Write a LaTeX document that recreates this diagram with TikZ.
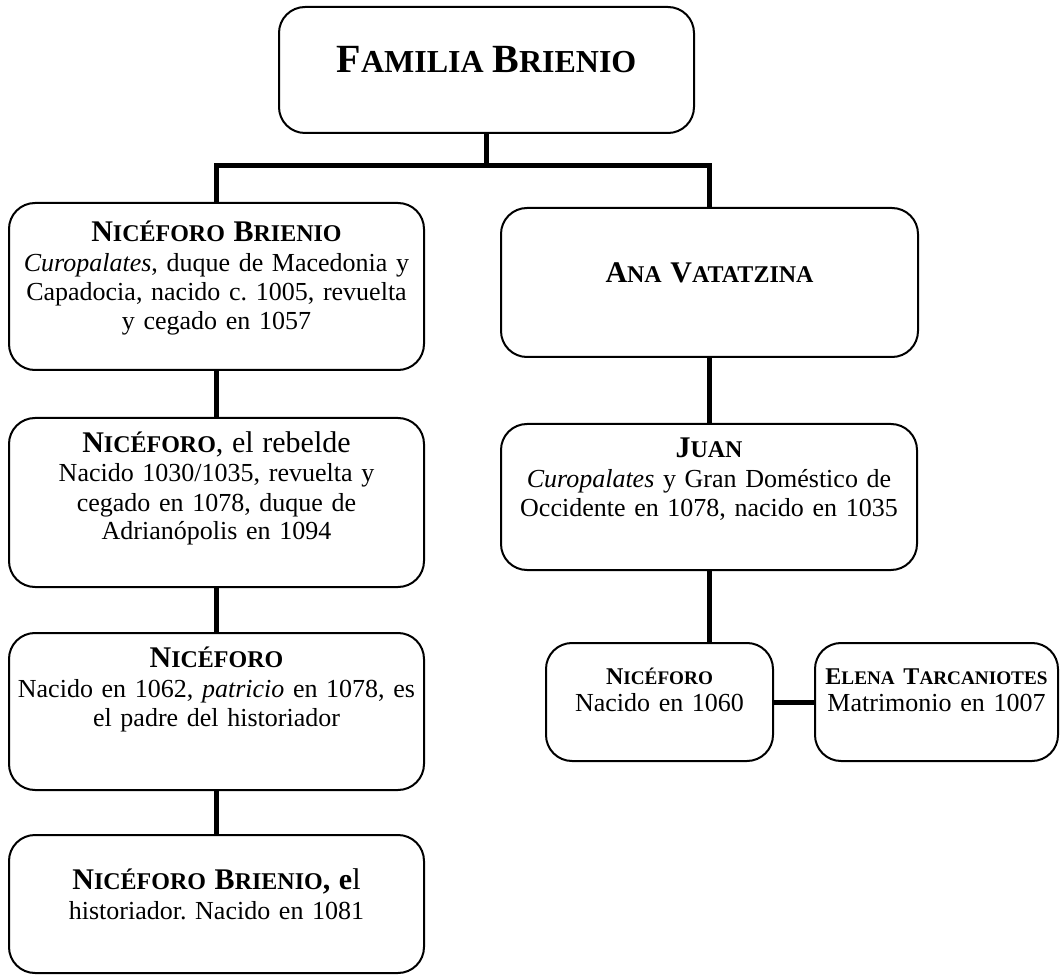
\documentclass[tikz,border=0pt]{standalone}
\usepackage{fontspec}
\setmainfont{Liberation Serif}
\frenchspacing
\newcommand\Lg{\fontsize{30}{29}\selectfont}
\newcommand\Sm{\fontsize{24}{29}\selectfont}
\newcommand\Ms{\fontsize{24}{27}\selectfont}
\newcommand\Ss{\fontsize{19.2}{27}\selectfont}
\tikzset{
  box/.style={draw, line width=2pt, rounded corners=26pt, inner sep=0pt},
  link/.style={line width=5pt},
  txt/.style={anchor=base, align=center, inner sep=0pt, text width=#1,
    font=\frenchspacing\fontsize{26}{29}\selectfont},
  txt/.default=460pt
}
\begin{document}
\begin{tikzpicture}[x=1pt, y=-1pt]
\useasboundingbox[fill=white] (0,0) rectangle (1061,976);
% boxes
\node[box, minimum width=415pt, minimum height=126pt] (top) at (486.5,70) {};
\node[box, minimum width=415pt, minimum height=167pt] (b1) at (216.5,286.5) {};
\node[box, minimum width=415pt, minimum height=169pt] (b2) at (216.5,502.5) {};
\node[box, minimum width=415pt, minimum height=157pt] (b3) at (216.5,711.5) {};
\node[box, minimum width=415pt, minimum height=138pt] (b4) at (216.5,904) {};
\node[box, minimum width=417pt, minimum height=149pt] (ana) at (709.5,282.5) {};
\node[box, minimum width=416pt, minimum height=146pt] (juan) at (709,497) {};
\node[box, minimum width=227pt, minimum height=118pt] (nic) at (659.5,702) {};
\node[box, minimum width=243pt, minimum height=118pt] (elena) at (936.5,702) {};
% texts
\node[txt] (ttop) at ([yshift=-67pt]top.north) {\bfseries\fontsize{40}{44}\selectfont F{\fontsize{32}{44}\selectfont AMILIA} B{\fontsize{32}{44}\selectfont RIENIO}};
\node[txt] (t1) at ([yshift=-40pt]b1.north) {{\bfseries\Lg N\Sm ICÉFORO \Lg B\Sm RIENIO}\\[1pt]
  \textit{Curopalates}, duque de Macedonia y\\
  Capadocia, nacido c. 1005, revuelta\\
  y cegado en 1057};
\node[txt] (t2) at ([yshift=-35pt]b2.north) {{\Lg\textbf{N{\Sm ICÉFORO}}, el rebelde}\\[1pt]
  Nacido 1030/1035, revuelta y\\
  cegado en 1078, duque de\\
  Adrianópolis en 1094};
\node[txt] (t3) at ([yshift=-35pt]b3.north) {{\bfseries\Lg N\Sm ICÉFORO}\\[1pt]
  Nacido en 1062, \textit{patricio} en 1078, es\\
  el padre del historiador};
\node[txt] (t4) at ([yshift=-55pt]b4.north) {{\Lg\textbf{N{\Sm ICÉFORO} B{\Sm RIENIO}, e}l}\\[1pt]
  historiador. Nacido en 1081};
\node[txt] (tana) at ([yshift=-76pt]ana.north) {{\bfseries\Lg A\Sm NA \Lg V\Sm ATATZINA}};
\node[txt] (tjuan) at ([yshift=-34pt]juan.north) {{\bfseries\Lg J\Sm UAN}\\[1pt]
  \textit{Curopalates} y Gran Doméstico de\\
  Occidente en 1078, nacido en 1035};
\node[txt=260pt] (tnic) at ([yshift=-42pt]nic.north) {{\bfseries\Ms N\Ss ICÉFORO}\\[-2pt]
  Nacido en 1060};
\node[txt=260pt] (telena) at ([yshift=-42pt]elena.north) {{\bfseries\Ms E\Ss LENA \Ms T\Ss ARCANIOTES}\\[-2pt]
  Matrimonio en 1007};
% connectors
\coordinate (bar) at (486.5,165.5);
\draw[link] (top.south) -- (bar);
\draw[link] (b1.north) |- (bar) -| (ana.north);
\draw[link] (b1) -- (b2);
\draw[link] (b2) -- (b3);
\draw[link] (b3) -- (b4);
\draw[link] (ana.south) -- (ana.south |- juan.north);
\draw[link] (juan.south) -- (juan.south |- nic.north);
\draw[link] (nic) -- (elena);
\end{tikzpicture}
\end{document}
